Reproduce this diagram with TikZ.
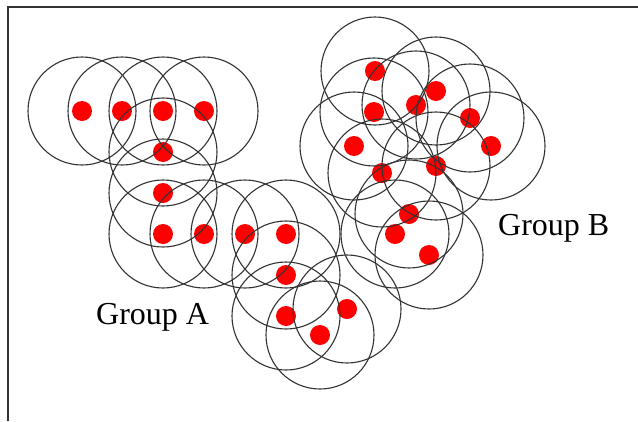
\documentclass[tikz,border=0pt]{standalone}
\usepackage{fontspec}
\setmainfont{Liberation Serif}
\usetikzlibrary{positioning}
\tikzset{sensor/.style={circle, fill=red, inner sep=0pt, minimum size=20pt}}
\tikzset{rangering/.style={draw=black!80, line width=1.1pt}}
\tikzset{grouplabel/.style={anchor=base west, inner sep=0pt, font=\fontsize{32}{36}\selectfont}}

\begin{document}
\begin{tikzpicture}[x=1pt, y=-1pt]
  \useasboundingbox (0,0) rectangle (638,421);
  % frame
  \draw[black!80, line width=1.5pt] (8,421) -- (8,7) -- (638,7);

  % group A
  \foreach \name/\x/\y in {a1/82/111, a2/122/111, a3/163/111, a4/204/111, a5/163/152,
      a6/163/193, a7/163/234, a8/204/234, a9/245/234, a10/286/234, a11/286/275,
      a12/286/316, a13/347/309, a14/320/335}
    \node[sensor] (\name) at (\x,\y) {};

  % group B
  \foreach \name/\x/\y in {b1/375/71, b2/374/112, b3/416/105, b4/436/91, b5/470/118,
      b6/491/146, b7/354/146, b8/382/173, b9/436/166, b10/409/214, b11/395/234, b12/429/255}
    \node[sensor] (\name) at (\x,\y) {};

  % ranges
  \foreach \name in {a1,a2,a3,a4,a5,a6,a7,a8,a9,a10,a11,a12,a13,a14,
      b1,b2,b3,b4,b5,b6,b7,b8,b9,b10,b11,b12}
    \draw[rangering] (\name.center) circle (54);

  \node[grouplabel] (labelA) at (96,324) {Group A};
  \node[grouplabel] (labelB) at (498,235) {Group B};
\end{tikzpicture}
\end{document}
